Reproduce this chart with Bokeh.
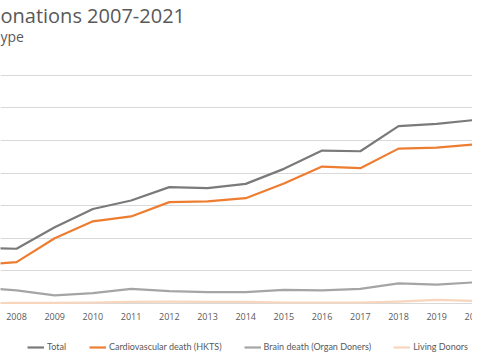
from bokeh.plotting import figure
from bokeh.models import Range1d, FixedTicker, Legend, LegendItem, Label
from bokeh.core.properties import value
from bokeh.embed import file_html
from bokeh.resources import INLINE

years = list(range(2007, 2022))
tick_years = list(range(2008, 2022))
tick_labels = [str(y) for y in tick_years]
total = [170, 168, 234, 290, 316, 357, 354, 367, 413, 469, 467, 544, 551, 563, 586]
cardio = [118, 127, 200, 252, 267, 311, 313, 323, 368, 420, 415, 475, 478, 488, 505]
brain = [49, 40, 25, 32, 45, 38, 35, 35, 42, 40, 45, 62, 58, 65, 68]
living = [1, 2, 2, 3, 5, 6, 5, 5, 3, 3, 3, 6, 11, 8, 7]
grid_values = [0, 100, 200, 300, 400, 500, 600, 700]
series_names = ["Total", "Cardiovascular death (HKTS)", "Brain death (Organ Doners)", "Living Donors"]
title_text = "onations 2007-2021"
subtitle_text = "ype"

W, H = 472, 352
p = figure(width=W, height=H, output_backend="svg", toolbar_location=None,
           x_range=Range1d(2007.581, 2019.937), y_range=Range1d(-150.3, 929.4),
           min_border_left=0, min_border_right=0, min_border_top=0, min_border_bottom=0)
p.outline_line_color = None
p.background_fill_color = "white"
p.border_fill_color = "white"

p.xaxis.visible = False
p.yaxis.visible = False
p.yaxis.ticker = FixedTicker(ticks=grid_values)
p.ygrid.ticker = FixedTicker(ticks=grid_values)
p.ygrid.grid_line_color = "#d9d9d9"
p.ygrid.grid_line_width = 1
p.xgrid.visible = False

# category (year) labels below the baseline
p.text(x=tick_years, y=[-40] * len(tick_years), text=tick_labels,
       text_align="center", text_baseline="middle",
       text_font=value("Open Sans"), text_font_size="9px", text_color="#595959")

colors = ["#7a7a7a", "#ED7D31", "#a5a5a5", "#f8d5bd"]
data = [total, cardio, brain, living]
renderers = []
for vals, col in zip(data, colors):
    r = p.line(years, vals, line_color=col, line_width=2.2, line_join="round")
    renderers.append(r)

legend = Legend(items=[LegendItem(label=n, renderers=[r]) for n, r in zip(series_names, renderers)],
                orientation="horizontal", location=(27, 0), margin=0, padding=3,
                glyph_width=17, glyph_height=10, label_standoff=3, spacing=22,
                label_text_font="Lato", label_text_font_size="9px", label_text_color="#595959",
                border_line_color=None, background_fill_alpha=0)
p.add_layout(legend)

p.add_layout(Label(x=0, y=337, x_units="screen", y_units="screen", text=title_text,
                   text_font="Open Sans", text_font_size="20px", text_color="#595959",
                   text_baseline="alphabetic"))
p.add_layout(Label(x=0, y=316, x_units="screen", y_units="screen", text=subtitle_text,
                   text_font="Open Sans", text_font_size="14px", text_color="#595959",
                   text_baseline="alphabetic"))

open("out.html", "w").write(file_html(p, INLINE))
